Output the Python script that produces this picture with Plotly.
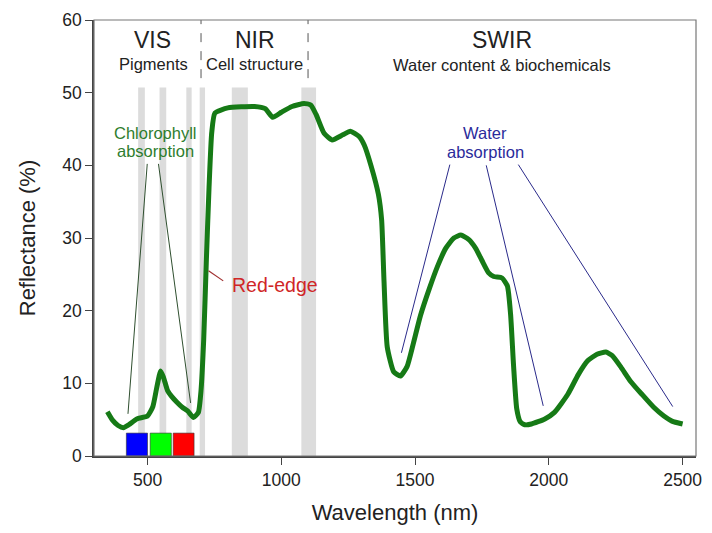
import plotly.graph_objects as go

# ---- data ----
wavelength = [350, 370, 390, 410, 430, 460, 500, 520, 535, 549, 560, 575, 590, 610, 630, 650, 672, 690,
              700, 710, 720, 730, 740, 752, 800, 900, 940, 968, 1000, 1040, 1085, 1110, 1130, 1160, 1190,
              1230, 1258, 1290, 1310, 1335, 1363, 1375, 1384, 1396, 1420, 1445, 1470, 1493, 1520,
              1554, 1585, 1615, 1645, 1671, 1700, 1726, 1750, 1775, 1794, 1825, 1845, 1857, 1868,
              1880, 1893, 1910, 1935, 1985, 2021, 2071, 2110, 2145, 2180, 2213, 2237, 2270, 2305,
              2350, 2392, 2430, 2460, 2500]
reflectance = [6.1, 4.9, 4.2, 3.9, 4.3, 5.1, 5.5, 6.8, 9.5, 11.7, 10.8, 9.0, 8.2, 7.4, 6.7, 6.2, 5.3, 6.0,
               9.0, 16, 27, 37, 44.5, 47.2, 47.9, 48.1, 47.8, 46.6, 47.3, 48.1, 48.5, 48.3, 47.0, 44.4, 43.5,
               44.2, 44.7, 44.0, 42.8, 40.0, 36.0, 32.5, 24, 15.0, 11.6, 11.0, 12.3, 15.4, 19.3,
               23.1, 26.2, 28.6, 30.0, 30.4, 29.8, 28.6, 26.9, 25.2, 24.7, 24.5, 23.4, 19.5, 12.5,
               6.5, 4.7, 4.3, 4.4, 5.1, 6.0, 8.5, 11.2, 13.1, 14.0, 14.3, 13.8, 12.2, 10.3,
               8.4, 6.7, 5.5, 4.8, 4.4]

band_start = [465, 545, 645, 695, 815, 1075]
band_end = [490, 570, 665, 715, 875, 1130]
band_top = 50.7

box_start = [421, 510, 596]
box_end = [500, 589, 674]
box_colors = ["#0000ff", "#00ff00", "#ff0000"]
box_top = 3.15

region_bounds = [700, 1100]
region_line_from = 52

x_ticks = [500, 1000, 1500, 2000, 2500]
y_ticks = [0, 10, 20, 30, 40, 50, 60]

chl_lines = [((499, 40.2), (427, 5.8)), ((541, 40.2), (661, 7.3))]
water_lines = [((1630, 40.1), (1449, 14.2)), ((1766, 40.0), (1979, 6.9)), ((1886, 40.1), (2463, 6.8))]
rededge_line = ((728, 25.5), (783, 24.1))

FONT = "Liberation Sans, Arial, sans-serif"

fig = go.Figure()

shapes = []
for s, e in zip(band_start, band_end):
    shapes.append(dict(type="rect", xref="x", yref="y", x0=s, x1=e, y0=0, y1=band_top,
                       fillcolor="#dcdcdc", line=dict(width=0), layer="below"))
for s, e, c in zip(box_start, box_end, box_colors):
    shapes.append(dict(type="rect", xref="x", yref="y", x0=s, x1=e, y0=0, y1=box_top,
                       fillcolor=c, line=dict(width=0.6, color="#333"), layer="above"))
for b in region_bounds:
    shapes.append(dict(type="line", xref="x", yref="y", x0=b, x1=b, y0=region_line_from, y1=60,
                       line=dict(color="#555", width=1, dash="dash")))
for (p0, p1) in chl_lines:
    shapes.append(dict(type="line", xref="x", yref="y", x0=p0[0], y0=p0[1], x1=p1[0], y1=p1[1],
                       line=dict(color="#2f4f2f", width=1)))
for (p0, p1) in water_lines:
    shapes.append(dict(type="line", xref="x", yref="y", x0=p0[0], y0=p0[1], x1=p1[0], y1=p1[1],
                       line=dict(color="#2a2a8a", width=1)))
shapes.append(dict(type="line", xref="x", yref="y", x0=rededge_line[0][0], y0=rededge_line[0][1],
                   x1=rededge_line[1][0], y1=rededge_line[1][1], line=dict(color="#a03030", width=1.2)))
# frame
shapes.append(dict(type="rect", xref="paper", yref="paper", x0=0, x1=1, y0=0, y1=1,
                   line=dict(color="#777", width=1.2), fillcolor="rgba(0,0,0,0)", layer="above"))

fig.add_trace(go.Scatter(x=wavelength, y=reflectance, mode="lines",
                         line=dict(color="#167a16", width=5, shape="spline", smoothing=0.5),
                         hoverinfo="x+y", showlegend=False))

def ann(text, x, y, size, color="#222", xanchor="center"):
    return dict(text=text, x=x, y=y, xref="x", yref="y", showarrow=False,
                font=dict(family=FONT, size=size, color=color), xanchor=xanchor, yanchor="middle")

annotations = [
    ann("VIS", 518, 57.3, 23),
    ann("Pigments", 521, 53.9, 16.5),
    ann("NIR", 903, 57.3, 23),
    ann("Cell structure", 901, 53.9, 16.5),
    ann("SWIR", 1825, 57.2, 23),
    ann("Water content &amp; biochemicals", 1825, 53.8, 16.5),
    ann("Chlorophyll", 531, 44.5, 16.5, "#2e7d2e"),
    ann("absorption", 531, 42.0, 16.5, "#2e7d2e"),
    ann("Water", 1763, 44.4, 16.5, "#2b2b9b"),
    ann("absorption", 1763, 41.8, 16.5, "#2b2b9b"),
    ann("Red-edge", 808, 23.6, 19.5, "#d02626", xanchor="left"),
]

# page body has an 8px margin: size the figure so the page does not overflow the window
fig.update_layout(
    width=696, height=517,
    margin=dict(l=86, r=2, t=9, b=69),
    plot_bgcolor="white", paper_bgcolor="white",
    shapes=shapes, annotations=annotations,
    font=dict(family=FONT, color="#222"),
    xaxis=dict(range=[300, 2550], tickvals=x_ticks, ticks="outside", ticklen=7, tickcolor="#444",
               showline=True, linecolor="#444", linewidth=1.5, showgrid=False, zeroline=False,
               ticklabeloverflow="allow",
               tickfont=dict(size=17.5, family=FONT, color="#222"),
               title=dict(text="Wavelength (nm)", font=dict(size=22, family=FONT, color="#222"), standoff=17)),
    yaxis=dict(range=[0, 60], tickvals=y_ticks, ticks="outside", ticklen=7, tickcolor="#444",
               showline=True, linecolor="#444", linewidth=1.5, showgrid=False, zeroline=False,
               ticklabeloverflow="allow",
               tickfont=dict(size=17.5, family=FONT, color="#222"),
               title=dict(text="Reflectance (%)", font=dict(size=22, family=FONT, color="#222"), standoff=21)),
)

fig.write_html("out.html")
